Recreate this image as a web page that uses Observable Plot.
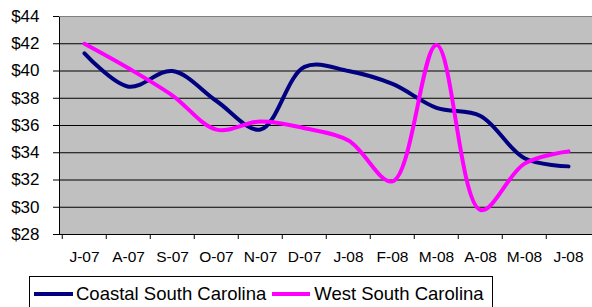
<!DOCTYPE html>
<html>
<head>
<meta charset="utf-8">
<script src="https://cdn.jsdelivr.net/npm/d3@7"></script>
<script src="https://cdn.jsdelivr.net/npm/@observablehq/plot@0.6"></script>
<style>
  html, body { margin: 0; padding: 0; background: #fff; }
  body { font-family: Arial, "Liberation Sans", sans-serif; width: 592px; height: 307px; overflow: hidden; }
  #legend {
    margin-left: 29px; width: 462px; height: 34px;
    border: 1px solid #000; box-sizing: content-box;
    display: flex; align-items: center;
    font-size: 18.5px; color: #000; white-space: nowrap;
  }
  .sw { display: inline-block; height: 4px; }
</style>
</head>
<body>
<div id="chart"></div>
<script>
const months = ["2007-07","2007-08","2007-09","2007-10","2007-11","2007-12","2008-01","2008-02","2008-03","2008-04","2008-05","2008-06"];
const monthLabels = ["J-07","A-07","S-07","O-07","N-07","D-07","J-08","F-08","M-08","A-08","M-08","J-08"];
const seriesNames = ["Coastal South Carolina", "West South Carolina"];
const seriesColors = ["#000080", "#FF00FF"];
const coastal = [41.3, 38.85, 40.0, 37.8, 35.7, 40.3, 40.0, 39.05, 37.3, 36.7, 33.6, 33.0];
const west = [42.0, 40.2, 38.2, 35.7, 36.3, 35.8, 34.9, 31.9, 41.9, 29.8, 33.2, 34.1];
const yTicks = [28, 30, 32, 34, 36, 38, 40, 42, 44];

const rows = [
  ...months.map((m, i) => ({month: m, value: coastal[i], series: seriesNames[0]})),
  ...months.map((m, i) => ({month: m, value: west[i], series: seriesNames[1]}))
];

const W = 592, H = 276, mL = 59, mR = -1, mT = 16, mB = 42;
const bw = (W - mL - mR) / months.length;
const fontFamily = 'Arial, "Liberation Sans", sans-serif';

const chart = Plot.plot({
  width: W, height: H,
  marginLeft: mL, marginRight: mR, marginTop: mT, marginBottom: mB,
  style: {fontFamily, color: "#000", background: "#fff"},
  x: {type: "band", domain: months, padding: 0},
  y: {domain: [yTicks[0], yTicks[yTicks.length - 1]]},
  color: {domain: seriesNames, range: seriesColors},
  marks: [
    Plot.frame({fill: "#C0C0C0", stroke: "#000"}),
    Plot.ruleY(yTicks.slice(1, -1), {stroke: "#000", strokeWidth: 1}),
    Plot.ruleY([yTicks[yTicks.length - 1]], {stroke: "#808080", strokeWidth: 1}),
    Plot.ruleY([yTicks[0]], {stroke: "#000", strokeWidth: 1}),
    Plot.axisY({ticks: yTicks, tickSize: 6, tickPadding: 14, tickFormat: d => "$" + d, fontSize: 17, label: null, stroke: "#000"}),
    Plot.axisX({tickSize: 5, tickFormat: () => "", dx: -bw / 2, label: null, stroke: "#000"}),
    Plot.axisX({tickSize: 0, tickPadding: 16, tickFormat: d => monthLabels[months.indexOf(d)], fontSize: 15.5, label: null}),
    Plot.line(rows, {x: "month", y: "value", stroke: "series", z: "series", strokeWidth: 4, curve: "catmull-rom"})
  ]
});
document.getElementById("chart").appendChild(chart);

const legend = document.createElement("div");
legend.id = "legend";
seriesNames.forEach((name, i) => {
  const sw = document.createElement("span");
  sw.className = "sw";
  sw.style.background = seriesColors[i];
  sw.style.width = i === 0 ? "39px" : "38px";
  sw.style.marginLeft = i === 0 ? "4px" : "6px";
  sw.style.marginRight = i === 0 ? "3px" : "4px";
  const t = document.createElement("span");
  t.textContent = name;
  legend.appendChild(sw);
  legend.appendChild(t);
});
document.body.appendChild(legend);
</script>
</body>
</html>
